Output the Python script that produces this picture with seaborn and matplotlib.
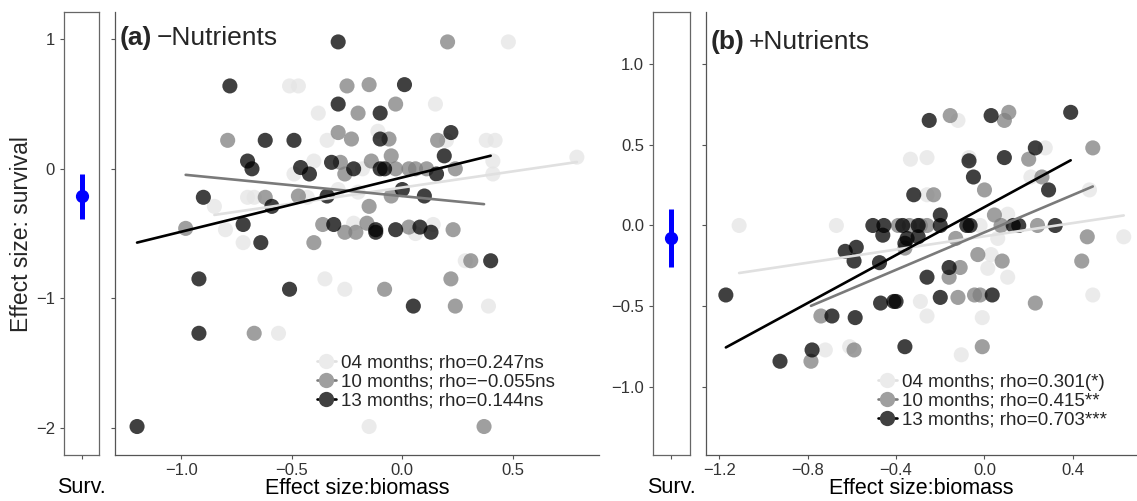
import matplotlib
matplotlib.use('Agg')
import matplotlib.pyplot as plt
from matplotlib.lines import Line2D
import numpy as np
import pandas as pd
import seaborn as sns

# ---- data ----
groups = ['04 months', '10 months', '13 months']

# (a) -Nutrients
a_x_04 = [0.48, -0.51, -0.47, -0.38, 0.15, -0.34, -0.11, 0.20, 0.38, 0.42, -0.40, -0.49, -0.18,
          0.41, 0.41, 0.79, -0.85, -0.70, -0.67, -0.43, -0.29, -0.20, -0.80, -0.72, -0.22, 0.06,
          0.14, 0.285, -0.35, -0.26, -0.56, 0.39, -0.15]
a_y_04 = [0.98, 0.64, 0.64, 0.43, 0.50, 0.22, 0.29, 0.22, 0.22, 0.22, 0.06, -0.04, 0.0,
          0.06, -0.04, 0.09, -0.29, -0.22, -0.22, -0.22, -0.16, -0.18, -0.47, -0.57, -0.42, -0.50,
          -0.43, -0.71, -0.85, -0.93, -1.27, -1.06, -1.99]
a_x_10 = [0.205, -0.25, -0.15, -0.20, -0.03, -0.79, -0.29, -0.23, -0.06, 0.16, -0.28, -0.26, -0.14,
          -0.05, -0.03, 0.03, 0.06, 0.11, 0.24, -0.62, -0.47, -0.05, -0.15, -0.98, -0.40, -0.36,
          -0.26, -0.21, -0.16, 0.03, 0.23, 0.31, 0.22, -0.08, 0.24, -0.67, 0.37]
a_y_10 = [0.98, 0.64, 0.65, 0.43, 0.50, 0.22, 0.28, 0.23, 0.23, 0.22, 0.05, -0.04, 0.06,
          0.10, 0.0, 0.0, 0.0, 0.0, 0.0, -0.22, -0.21, -0.21, -0.29, -0.46, -0.57, -0.43,
          -0.49, -0.49, -0.42, -0.45, -0.47, -0.71, -0.85, -0.93, -1.06, -1.27, -1.99]
a_x_13 = [-0.29, -0.78, 0.01, -0.29, -0.10, -0.62, -0.49, -0.10, 0.22, -0.70, -0.68, -0.46, -0.42,
          -0.32, -0.22, -0.10, -0.08, 0.155, 0.19, 0.0, 0.10, -0.90, -0.59, -0.34, -0.72, -0.64,
          -0.31, -0.12, -0.12, -0.03, 0.08, 0.13, 0.40, -0.92, -0.51, 0.05, -0.92, -1.20]
a_y_13 = [0.98, 0.64, 0.65, 0.50, 0.43, 0.22, 0.22, 0.23, 0.28, 0.06, 0.0, 0.01, -0.04,
          0.05, 0.0, 0.0, 0.0, -0.04, 0.10, -0.16, -0.21, -0.22, -0.29, -0.21, -0.43, -0.57,
          -0.43, -0.49, -0.47, -0.47, -0.45, -0.49, -0.71, -0.85, -0.93, -1.06, -1.27, -1.99]

# (b) +Nutrients
b_x_04 = [-0.335, -0.26, -0.12, -0.07, 0.275, 0.21, 0.475, -0.26, 0.105, -1.11, -0.67, -0.02,
          0.63, 0.06, 0.03, 0.015, 0.105, -0.29, 0.49, -0.26, -0.01, -0.72, -0.61, -0.105]
b_y_04 = [0.41, 0.42, 0.65, 0.42, 0.48, 0.30, 0.22, 0.19, 0.07, 0.0, 0.0, 0.0,
          -0.07, -0.08, -0.18, -0.265, -0.32, -0.47, -0.43, -0.56, -0.57, -0.77, -0.75, -0.80]
b_x_10 = [-0.155, 0.11, 0.09, 0.49, 0.20, 0.0, 0.26, -0.23, 0.045, -0.39, -0.34, -0.29, -0.26,
          0.075, 0.24, 0.465, -0.13, -0.36, -0.03, 0.08, -0.11, -0.16, 0.44, -0.12, -0.045,
          -0.02, 0.23, -0.74, -0.59, -0.01, -0.785]
b_y_10 = [0.68, 0.70, 0.65, 0.48, 0.41, 0.22, 0.30, 0.19, 0.065, 0.0, 0.0, 0.0, 0.0,
          0.0, 0.0, -0.07, -0.08, -0.14, -0.18, -0.22, -0.26, -0.32, -0.22, -0.445, -0.43,
          -0.43, -0.48, -0.56, -0.77, -0.75, -0.84]
b_x_13 = [-0.25, 0.03, 0.39, -0.07, 0.09, 0.23, -0.05, 0.29, -0.32, -0.20, -0.505, -0.455, -0.37,
          -0.30, -0.20, -0.08, -0.065, 0.13, 0.155, 0.32, -0.46, -0.35, -0.30, -0.36, -0.58,
          -0.63, -0.59, -0.475, -0.16, -0.26, -1.17, -0.47, -0.41, -0.40, -0.20, 0.035, -0.69,
          -0.585, -0.78, -0.36, -0.925]
b_y_13 = [0.65, 0.68, 0.70, 0.40, 0.42, 0.48, 0.30, 0.22, 0.19, 0.065, 0.0, 0.0, 0.0,
          0.0, 0.0, 0.0, 0.0, 0.0, 0.0, 0.0, -0.06, -0.08, -0.07, -0.11, -0.135,
          -0.16, -0.22, -0.23, -0.26, -0.32, -0.43, -0.48, -0.47, -0.47, -0.445, -0.43, -0.56,
          -0.57, -0.77, -0.75, -0.84]

# overall survival effect (mean, lower, upper)
surv_a = [-0.21, -0.385, -0.04]
surv_b = [-0.075, -0.255, 0.10]

legend_a = ['04 months; rho=0.247ns', '10 months; rho=\u22120.055ns', '13 months; rho=0.144ns']
legend_b = ['04 months; rho=0.301(*)', '10 months; rho=0.415**', '13 months; rho=0.703***']

point_cols = ['#e5e5e5', '#7f7f7f', '#000000']
line_cols = ['#e0e0e0', '#7a7a7a', '#000000']
ALPHA = 0.75


def make_df(xs, ys):
    parts = []
    for g, x, y in zip(groups, xs, ys):
        parts.append(pd.DataFrame({'biomass': x, 'survival': y, 'group': g}))
    return pd.concat(parts, ignore_index=True)


df_a = make_df([a_x_04, a_x_10, a_x_13], [a_y_04, a_y_10, a_y_13])
df_b = make_df([b_x_04, b_x_10, b_x_13], [b_y_04, b_y_10, b_y_13])

sns.set_theme(style='ticks')
plt.rcParams['font.family'] = ['Liberation Sans', 'DejaVu Sans']
plt.rcParams['axes.unicode_minus'] = True

fig = plt.figure(figsize=(11.37, 5.01), dpi=100)
bottom, height = 0.0918, 0.884
ax_sa = fig.add_axes([0.0563, bottom, 0.0308, height])
ax_a = fig.add_axes([0.1011, bottom, 0.4257, height])
ax_sb = fig.add_axes([0.5743, bottom, 0.0325, height])
ax_b = fig.add_axes([0.6209, bottom, 0.3791, height])

spine_col = '#555555'
tick_col = '#333333'
LABEL_FS = 15.5
TICK_FS = 12


def draw_panel(ax, df, xlim, ylim, xticks, yticks, leg_labels, leg_pos, tag, title, title_y):
    sns.scatterplot(data=df, x='biomass', y='survival', hue='group', hue_order=groups,
                    palette=point_cols, s=118, alpha=ALPHA, linewidth=0, legend=False, ax=ax,
                    zorder=2)
    for g, c in zip(groups, line_cols):
        sub = df[df['group'] == g]
        sns.regplot(data=sub, x='biomass', y='survival', scatter=False, ci=None, truncate=True,
                    color=c, line_kws={'lw': 1.9, 'zorder': 3}, ax=ax)
    ax.set_xlim(*xlim)
    ax.set_ylim(*ylim)
    ax.set_xticks(xticks)
    ax.set_yticks(yticks)
    ax.set_yticklabels([])
    ax.set_xlabel('Effect size:biomass', fontsize=LABEL_FS, color='black', labelpad=0)
    ax.set_ylabel('')
    ax.tick_params(axis='both', labelsize=TICK_FS, colors=spine_col, labelcolor=tick_col,
                   length=3, width=0.8, pad=3)
    sns.despine(ax=ax)
    for s in ['left', 'bottom']:
        ax.spines[s].set_color(spine_col)
        ax.spines[s].set_linewidth(0.9)
    handles = [Line2D([0], [0], color=lc, lw=1.9, marker='o', markersize=11,
                      markerfacecolor=pc, markeredgewidth=0, alpha=1.0)
               for lc, pc in zip(line_cols, ['#ebebeb', '#9f9f9f', '#404040'])]
    ax.legend(handles, leg_labels, loc='center left', bbox_to_anchor=leg_pos, frameon=False,
              fontsize=13.5, handlelength=1.0, handletextpad=0.3, labelspacing=0.08,
              borderpad=0, borderaxespad=0)
    t1 = ax.text(0.01, title_y, tag, transform=ax.transAxes, fontsize=19, fontweight='bold',
                 va='center', ha='left')
    ax.annotate(title, xy=(1, 0), xycoords=t1, xytext=(3, 0), textcoords='offset points',
                fontsize=19, va='bottom', ha='left')


def draw_strip(ax, surv, ylim, yticks, yticklabels):
    ax.errorbar([0], [surv[0]], yerr=[[surv[0] - surv[1]], [surv[2] - surv[0]]], fmt='o',
                color='#0000ff', ms=8.5, elinewidth=3.6, capsize=0)
    ax.set_xlim(-1, 1)
    ax.set_ylim(*ylim)
    ax.set_xticks([0])
    ax.set_xticklabels(['Surv.'])
    ax.set_yticks(yticks)
    ax.set_yticklabels(yticklabels)
    ax.tick_params(axis='both', colors=spine_col, labelcolor=tick_col, length=3, width=0.8)
    ax.tick_params(axis='y', labelsize=TICK_FS)
    ax.tick_params(axis='x', labelsize=LABEL_FS, labelcolor='black', pad=13)
    for s in ax.spines.values():
        s.set_color('#666666')
        s.set_linewidth(0.9)


draw_strip(ax_sa, surv_a, (-2.21, 1.21), [-2, -1, 0, 1], ['\u22122', '\u22121', '0', '1'])
ax_sa.set_ylabel('Effect size: survival', fontsize=LABEL_FS + 1, labelpad=2)
draw_strip(ax_sb, surv_b, (-1.42, 1.32), [-1.0, -0.5, 0.0, 0.5, 1.0],
           ['\u22121.0', '\u22120.5', '0.0', '0.5', '1.0'])

draw_panel(ax_a, df_a, (-1.30, 0.89), (-2.21, 1.21), [-1.0, -0.5, 0.0, 0.5], [-2, -1, 0, 1],
           legend_a, (0.417, 0.165), '(a)', '\u2212Nutrients', 0.941)
ax_a.set_xticklabels(['\u22121.0', '\u22120.5', '0.0', '0.5'])
draw_panel(ax_b, df_b, (-1.26, 0.69), (-1.42, 1.32), [-1.2, -0.8, -0.4, 0.0, 0.4],
           [-1.0, -0.5, 0.0, 0.5, 1.0], legend_b, (0.399, 0.122), '(b)', '+Nutrients', 0.932)
ax_b.set_xticklabels(['\u22121.2', '\u22120.8', '\u22120.4', '0.0', '0.4'])

fig.savefig('out.png', dpi=100)
